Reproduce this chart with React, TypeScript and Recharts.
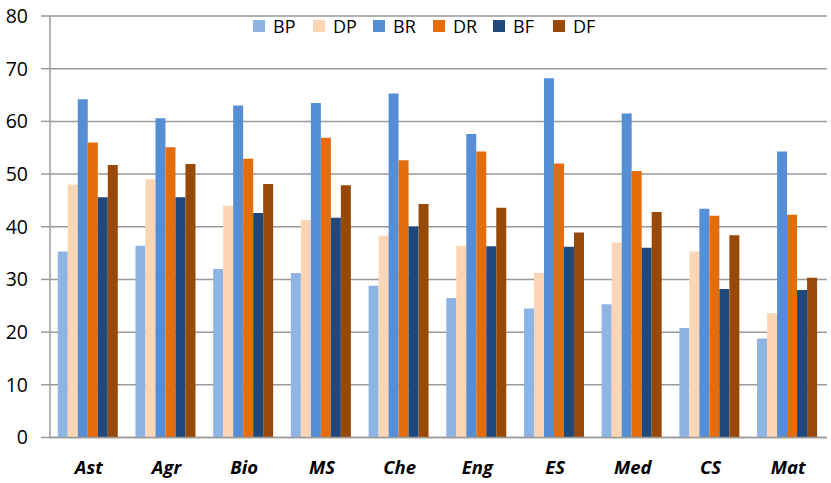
import React from 'react';
import { BarChart, Bar, XAxis, YAxis, CartesianGrid, Legend } from 'recharts';

const categories = ['Ast', 'Agr', 'Bio', 'MS', 'Che', 'Eng', 'ES', 'Med', 'CS', 'Mat'];
const BP = [35.3, 36.4, 32.0, 31.2, 28.8, 26.5, 24.5, 25.3, 20.8, 18.8];
const DP = [48.0, 49.0, 44.0, 41.3, 38.3, 36.4, 31.2, 37.0, 35.3, 23.6];
const BR = [64.2, 60.6, 63.0, 63.5, 65.3, 57.6, 68.2, 61.5, 43.4, 54.3];
const DR = [56.0, 55.1, 52.9, 56.9, 52.6, 54.3, 52.0, 50.6, 42.1, 42.3];
const BF = [45.6, 45.6, 42.6, 41.7, 40.0, 36.3, 36.2, 36.0, 28.2, 28.0];
const DF = [51.7, 51.9, 48.1, 47.9, 44.3, 43.6, 38.9, 42.8, 38.4, 30.3];
const yTicks = [0, 10, 20, 30, 40, 50, 60, 70, 80];

const seriesNames = ['BP', 'DP', 'BR', 'DR', 'BF', 'DF'];
const seriesValues = [BP, DP, BR, DR, BF, DF];
const colors = ['#8EB4E3', '#FCD5B5', '#558ED5', '#E46C0A', '#1F497D', '#984807'];

const data = categories.map((c, i) => {
  const row: Record<string, string | number> = { name: c };
  seriesNames.forEach((s, k) => {
    row[s] = seriesValues[k][i];
  });
  return row;
});

const FONT = '"Open Sans", sans-serif';

const LegendContent = () => (
  <div style={{ display: 'flex', fontFamily: FONT, fontSize: 18, color: '#000' }}>
    {seriesNames.map((s, k) => (
      <div key={s} style={{ display: 'flex', alignItems: 'center', width: 60 }}>
        <div style={{ width: 12, height: 12, background: colors[k], marginRight: 8 }} />
        <span style={{ lineHeight: '18px' }}>{s}</span>
      </div>
    ))}
  </div>
);

export default function App() {
  return (
    <div style={{ position: 'absolute', left: 0, top: 0, width: 831, height: 483, background: '#fff' }}>
      <BarChart
        width={831}
        height={483}
        data={data}
        margin={{ top: 16, right: 4, left: 0, bottom: 0 }}
        barCategoryGap="10%"
        barGap={0}
      >
        <CartesianGrid vertical={false} stroke="#9A9A9A" strokeWidth={1.5} />
        <XAxis
          dataKey="name"
          height={45.5}
          tickLine={false}
          tickSize={0}
          tickMargin={23}
          axisLine={{ stroke: '#9A9A9A', strokeWidth: 1.5 }}
          tick={{ fontFamily: FONT, fontSize: 18.5, fontWeight: 700, fontStyle: 'italic', fill: '#000' }}
          interval={0}
        />
        <YAxis
          width={50}
          domain={[0, 80]}
          ticks={yTicks}
          tickSize={9}
          tickMargin={13}
          tickLine={{ stroke: '#9A9A9A', strokeWidth: 1.5 }}
          axisLine={{ stroke: '#9A9A9A', strokeWidth: 1.5 }}
          tick={{ fontFamily: FONT, fontSize: 19.5, fill: '#000' }}
          interval={0}
        />
        <Legend
          content={<LegendContent />}
          wrapperStyle={{ position: 'absolute', top: 17, left: 253, width: 380, height: 0, overflow: 'visible' }}
        />
        {seriesNames.map((s, k) => (
          <Bar key={s} dataKey={s} fill={colors[k]} isAnimationActive={false} />
        ))}
      </BarChart>
    </div>
  );
}
